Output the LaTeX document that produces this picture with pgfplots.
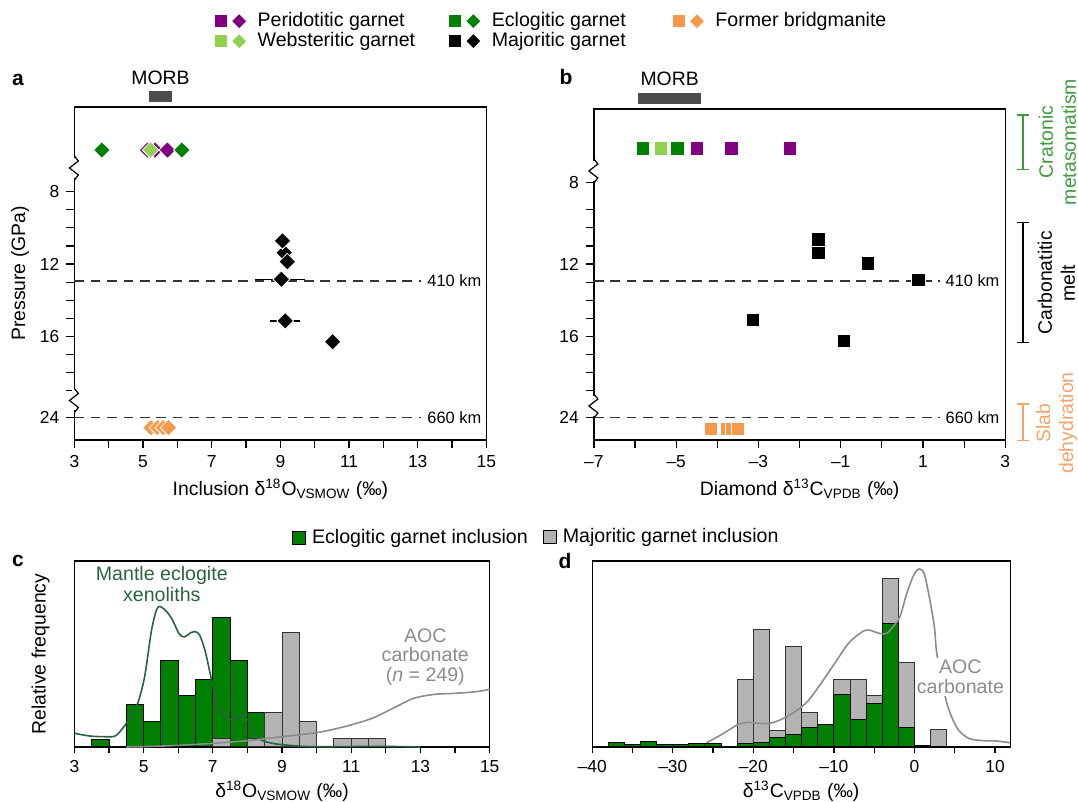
\documentclass[border=0pt]{standalone}
\usepackage{fontspec}
\setmainfont{Liberation Sans}
\usepackage{pgfplots}
\pgfplotsset{compat=1.18}

\definecolor{perid}{HTML}{800080}
\definecolor{eclog}{HTML}{008000}
\definecolor{webst}{HTML}{92D050}
\definecolor{bridg}{HTML}{F7994A}
\definecolor{morb}{HTML}{4D4D4D}
\definecolor{hgray}{HTML}{B3B3B3}
\definecolor{xenog}{HTML}{2B6242}
\definecolor{aocg}{HTML}{8C8C8C}
\definecolor{cratg}{HTML}{3C9B3C}
\definecolor{slabo}{HTML}{F5A468}

\newcommand\lab{\fontsize{9.7}{11.6}\selectfont}
\newcommand\tck{\fontsize{8.7}{10}\selectfont}
\newcommand\kmf{\fontsize{8.2}{9}\selectfont}

\pgfplotsset{
  base/.style={scale only axis, clip=false,
    axis line style={line width=0.6pt},
    tick style={line width=0.6pt, black},
    tick align=outside, tick pos=left,
    label style={font=\lab}, tick label style={font=\tck},
    /pgf/number format/assume math mode=true},
  legax/.style={hide axis, scale only axis, width=1pt, height=1pt,
    xmin=0, xmax=1, ymin=0, ymax=1, anchor=north west,
    legend cell align=left,
    legend style={at={(0,1)}, anchor=north west, draw=none, fill=none,
      inner sep=0pt, outer sep=0pt, font=\fontsize{9.8}{11}\selectfont,
      row sep=1.5pt, column sep=0pt, nodes={inner sep=0pt, outer sep=0pt},
      /tikz/every even column/.append style={text height=7pt, text depth=2pt}}},
  sqdia/.style={legend image code/.code={
    \fill[#1, draw=none] (0pt,-3pt) rectangle (6pt,3pt);
    \fill[#1, draw=none] (8.55pt,0pt) -- (12pt,3.45pt) -- (15.45pt,0pt) -- (12pt,-3.45pt) -- cycle;
    \path[draw=none, fill=none] (0pt,0pt) -- (21.2pt,0pt);}},
  sqleg/.style={legend image code/.code={
    \draw[fill=#1, draw=black, line width=0.5pt] (0pt,-3.2pt) rectangle (6.4pt,3.2pt);
    \path[draw=none, fill=none] (0pt,0pt) -- (9.8pt,0pt);}},
  dia/.style={only marks, mark=square*, mark size=2.95pt,
    mark options={rotate=45, fill=#1, draw=white, line width=0.4pt}},
  sq/.style={only marks, mark=square*, mark size=3.35pt,
    mark options={fill=#1, draw=white, line width=0.4pt}},
  refline/.style={black!80, line width=0.65pt, dash pattern=on 4.8pt off 3.4pt},
}

\begin{document}
\begin{tikzpicture}
\path[use as bounding box] (0,0) rectangle (539pt,401pt);

% ---------------- panel a ----------------
\begin{axis}[base, at={(37.2pt,181pt)}, anchor=south west,
  width=206pt, height=166.5pt,
  xmin=3, xmax=15, ymin=3.32, ymax=21.72, y dir=reverse,
  xtick={3,5,...,15}, minor xtick={4,6,...,14},
  ytick={8,12,16,20.49}, yticklabels={8,12,16,24},
  minor ytick={9,10,11,13,14,15,17,18,19},
  major tick length=4pt, minor tick length=4pt,
  xlabel={Inclusion δ\textsuperscript{18}O\textsubscript{VSMOW} (‰)},
  ylabel={Pressure (GPa)},
  xlabel style={at={(axis description cs:0.5,0)}, anchor=center, yshift=-24.5pt},
  ylabel style={at={(axis description cs:-0.132,0.5)}, anchor=center},
]
\addplot[fill=morb, draw=none] coordinates {(5.17,2.44) (5.85,2.44) (5.85,3.06) (5.17,3.06)} -- cycle;
\node[font=\lab] at (axis cs:5.51,1.72) {MORB};
\addplot[refline] coordinates {(3,12.93) (13.1,12.93)};
\addplot[refline] coordinates {(3,20.49) (13.1,20.49)};
\node[font=\kmf, anchor=west, inner sep=0pt] at (axis cs:13.27,12.93) {410 km};
\node[font=\kmf, anchor=west, inner sep=0pt] at (axis cs:13.27,20.49) {660 km};
% error bars
\addplot[only marks, mark=none, error bars/.cd, x dir=both, x explicit,
  error bar style={line width=0.7pt, black}, error mark=none]
  coordinates {(9.03,12.84) += (0.69,0) -= (0.77,0) (9.14,15.14) += (0.43,0) -= (0.45,0)};
\addplot[dia=perid] coordinates {(5.13,5.70) (5.35,5.70)};
\addplot[dia=webst] coordinates {(5.22,5.70)};
\addplot[dia=perid] coordinates {(5.71,5.70)};
\addplot[dia=eclog] coordinates {(3.80,5.70) (6.13,5.70)};
\addplot[dia=black] coordinates {(9.11,11.37) (9.06,10.72) (9.20,11.87) (9.03,12.84) (9.14,15.14) (10.52,16.29)};
\addplot[dia=bridg] coordinates {(5.23,21.04) (5.42,21.04) (5.59,21.04) (5.74,21.04)};
\end{axis}

% ---------------- panel b ----------------
\begin{axis}[base, at={(296.95pt,181pt)}, anchor=south west,
  width=205.7pt, height=165.5pt,
  xmin=-7, xmax=3, ymin=3.43, ymax=21.72, y dir=reverse,
  xtick={-7,-5,-3,-1,1,3}, xticklabels={\textendash7,\textendash5,\textendash3,\textendash1,1,3},
  minor xtick={-6,-4,-2,0,2},
  ytick={7.48,12,16,20.49}, yticklabels={8,12,16,24},
  minor ytick={9,10,11,13,14,15,17,18,19},
  major tick length=4pt, minor tick length=4pt,
  xlabel={Diamond δ\textsuperscript{13}C\textsubscript{VPDB} (‰)},
  xlabel style={at={(axis description cs:0.5,0)}, anchor=center, yshift=-24.5pt},
]
\addplot[fill=morb, draw=none] coordinates {(-5.93,2.56) (-4.39,2.56) (-4.39,3.17) (-5.93,3.17)} -- cycle;
\node[font=\lab] at (axis cs:-5.16,1.77) {MORB};
\addplot[refline] coordinates {(-7,12.93) (1.42,12.93)};
\addplot[refline] coordinates {(-7,20.49) (1.42,20.49)};
\node[font=\kmf, anchor=west, inner sep=0pt] at (axis cs:1.54,12.93) {410 km};
\node[font=\kmf, anchor=west, inner sep=0pt] at (axis cs:1.54,20.49) {660 km};
\addplot[sq=eclog] coordinates {(-5.81,5.60) (-4.97,5.60)};
\addplot[sq=webst] coordinates {(-5.37,5.60)};
\addplot[sq=perid] coordinates {(-4.49,5.60) (-3.66,5.60) (-2.24,5.60)};
\addplot[sq=black] coordinates {(-1.54,10.63) (-1.54,11.37) (-0.34,11.96) (0.89,12.88) (-3.14,15.09) (-0.93,16.25)};
\addplot[sq=bridg] coordinates {(-4.16,21.11) (-3.77,21.11) (-3.65,21.11) (-3.50,21.11)};
\end{axis}

% ---------------- panel c ----------------
\begin{axis}[base, at={(37.2pt,27.5pt)}, anchor=south west,
  width=207.65pt, height=93pt,
  xmin=3, xmax=15, ymin=0, ymax=21.63,
  xtick={3,5,...,15}, minor xtick={4,6,...,14}, ytick=\empty,
  major tick length=3.2pt, minor tick length=3.2pt,
  xlabel={δ\textsuperscript{18}O\textsubscript{VSMOW} (‰)},
  ylabel={Relative frequency},
  xlabel style={at={(axis description cs:0.5,0)}, anchor=center, yshift=-22pt},
  ylabel style={at={(axis description cs:-0.0814,0.5)}, anchor=center},
]
\addplot[ybar interval, fill=eclog, draw=black, line width=0.5pt] coordinates {
 (3.5,0.9) (4.0,0) (4.5,4.96) (5.0,2.95) (5.5,10.0) (6.0,5.93) (6.5,7.87)
 (7.0,15.04) (7.5,10.0) (8.0,3.99) (8.5,0)};
\addplot[ybar interval, fill=hgray, draw=black!80, line width=0.5pt] coordinates {
 (7.0,1.0) (7.5,0) (8.0,1.0) (8.5,4.0) (9.0,13.37) (9.5,2.95) (10.0,0)
 (10.5,1.0) (11.0,1.0) (11.5,1.0) (12.0,0)};
\addplot[xenog, line width=0.8pt, smooth] coordinates {
 (3.0,1.59) (3.44,1.28) (3.84,1.2) (4.18,1.28) (4.43,2.36) (4.63,3.53) (4.83,5.08)
 (5.03,8.18) (5.23,13.6) (5.41,16.24) (5.63,15.9) (5.83,14.8) (6.02,13.2) (6.17,12.8)
 (6.37,13.3) (6.5,13.4) (6.62,13.0) (6.77,11.3) (6.92,8.6) (7.07,5.85) (7.22,4.3)
 (7.42,3.45) (7.57,3.14) (7.72,3.45) (7.87,3.6) (8.01,3.14) (8.19,1.78) (8.36,0.89)
 (8.71,0.43) (9.21,0.19) (9.8,0.04) (10.8,0.04) (11.8,0.08) (13.0,0)};
\addplot[aocg, line width=0.8pt, smooth] coordinates {
 (4.5,0) (5.03,0.04) (6.02,0.19) (7.02,0.43) (8.01,0.74) (9.01,1.2) (10.0,1.67)
 (10.8,2.36) (11.6,3.33) (12.3,4.69) (12.8,5.66) (13.4,6.12) (14.0,6.24) (14.6,6.43) (15,6.7)};
\end{axis}

% ---------------- panel d ----------------
\begin{axis}[base, at={(296.1pt,27.5pt)}, anchor=south west,
  width=208.95pt, height=93pt,
  xmin=-40, xmax=11.87, ymin=0, ymax=21.63,
  xtick={-40,-30,-20,-10,0,10},
  xticklabels={\textendash40,\textendash30,\textendash20,\textendash10,0,10},
  minor xtick={-35,-25,-15,-5,5}, ytick=\empty,
  major tick length=3.2pt, minor tick length=3.2pt,
  xlabel={δ\textsuperscript{13}C\textsubscript{VPDB} (‰)},
  xlabel style={at={(axis description cs:0.5,0)}, anchor=center, yshift=-22pt},
]
\addplot[ybar interval, fill=hgray, draw=black!80, line width=0.5pt] coordinates {
 (-22,7.87) (-20,13.68) (-18,1.94) (-16,11.67) (-14,3.99) (-12,0) (-10,7.87)
 (-8,7.87) (-6,5.93) (-4,19.57) (-2,9.84) (0,0) (2,1.98) (4,0)};
\addplot[ybar interval, fill=eclog, draw=black, line width=0.5pt] coordinates {
 (-38,0.47) (-36,0.31) (-34,0.62) (-32,0.31) (-30,0.31) (-28,0.43) (-26,0.43)
 (-24,0) (-22,0.43) (-20,0.5) (-18,1.12) (-16,1.4) (-14,2.25) (-12,2.67)
 (-10,6.05) (-8,3.22) (-6,5.08) (-4,14.34) (-2,2.25) (0,0.23) (2,0.05) (4,0)};
\addplot[aocg, line width=0.8pt, smooth] coordinates {
 (-25.8,0.5) (-24.4,1.2) (-22.7,2.17) (-21.8,2.67) (-20.6,2.87) (-19.3,2.75)
 (-18.0,2.75) (-16.7,3.14) (-15.0,3.99) (-13.3,5.27) (-11.6,7.4) (-9.9,9.73)
 (-8.19,12.05) (-6.48,13.4) (-5.63,13.6) (-4.35,13.2) (-3.5,13.2) (-2.64,14.0)
 (-1.79,15.2) (-0.94,17.9) (-0.09,20.0) (0.55,20.7) (1.19,20.2) (1.83,17.5)
 (2.47,14.0) (2.69,11.5) (3.1,9.0) (3.97,5.27) (4.6,3.53) (5.46,1.98) (6.74,1.0)
 (8.44,0.74) (10.1,0.7) (11.86,0.5)};
\end{axis}

% ---------------- legends ----------------
\begin{axis}[legax, at={(107.6pt,394.65pt)}]
\addlegendimage{sqdia=perid}\addlegendentry{Peridotitic garnet}
\addlegendimage{sqdia=webst}\addlegendentry{Websteritic garnet}
\end{axis}
\begin{axis}[legax, at={(224.7pt,394.65pt)}]
\addlegendimage{sqdia=eclog}\addlegendentry{Eclogitic garnet}
\addlegendimage{sqdia=black}\addlegendentry{Majoritic garnet}
\end{axis}
\begin{axis}[legax, at={(336.5pt,394.65pt)}]
\addlegendimage{sqdia=bridg}\addlegendentry{Former bridgmanite}
\end{axis}
\begin{axis}[legax, at={(146pt,136.35pt)}]
\addlegendimage{sqleg=eclog}\addlegendentry{Eclogitic garnet inclusion}
\end{axis}
\begin{axis}[legax, at={(271.35pt,136.75pt)}]
\addlegendimage{sqleg=hgray}\addlegendentry{Majoritic garnet inclusion}
\end{axis}

% ---------------- annotations in pixel coordinates ----------------
\begin{scope}[x=0.5pt, y=-0.5pt, yshift=401pt]
\foreach \xx/\yy in {74.4/168, 74.4/400.5, 593.9/171, 593.9/406} {
  \draw[white, line width=2.5pt] (\xx,\yy-10) -- (\xx,\yy+10);
  \draw[black, line width=0.6pt] (\xx,\yy-12) -- (\xx+4,\yy-7) -- (\xx-5,\yy) -- (\xx+4,\yy+7) -- (\xx,\yy+12);
}
\draw[cratg, line width=0.7pt] (1017,115) -- (1029,115) (1023,115) -- (1023,169.3) (1017,169.3) -- (1029,169.3);
\draw[black, line width=0.7pt] (1017,222.3) -- (1029,222.3) (1023,222.3) -- (1023,342.5) (1017,342.5) -- (1029,342.5);
\draw[slabo, line width=0.7pt] (1017,404) -- (1029,404) (1023,404) -- (1023,440.7) (1017,440.7) -- (1029,440.7);
\node[rotate=90, align=center, text=cratg, font=\fontsize{9.7}{11.5}\selectfont] at (1057.5,142) {Cratonic\\metasomatism};
\node[rotate=90, align=center, font=\fontsize{9.7}{11.5}\selectfont] at (1056.5,283) {Carbonatitic\\melt};
\node[rotate=90, align=center, text=slabo, font=\fontsize{9.7}{11.5}\selectfont] at (1056.5,423) {Slab\\dehydration};

\node[font=\bfseries\fontsize{10.5}{12}\selectfont] at (18,80) {a};
\node[font=\bfseries\fontsize{10.5}{12}\selectfont] at (566,77) {b};
\node[font=\bfseries\fontsize{10.5}{12}\selectfont] at (18,561) {c};
\node[font=\bfseries\fontsize{10.5}{12}\selectfont] at (565,561) {d};

\node[align=center, text=xenog, font=\fontsize{9.8}{10.5}\selectfont] at (161.8,584.5) {Mantle eclogite\\xenoliths};
\node[align=center, text=aocg, font=\fontsize{9.8}{9.9}\selectfont] at (425.3,657) {AOC\\carbonate\\(\textit{n} = 249)};
\node[align=center, text=aocg, fill=white, inner sep=1pt, font=\fontsize{9.8}{10}\selectfont] at (960.4,677) {AOC\\carbonate};
\end{scope}
\end{tikzpicture}
\end{document}
